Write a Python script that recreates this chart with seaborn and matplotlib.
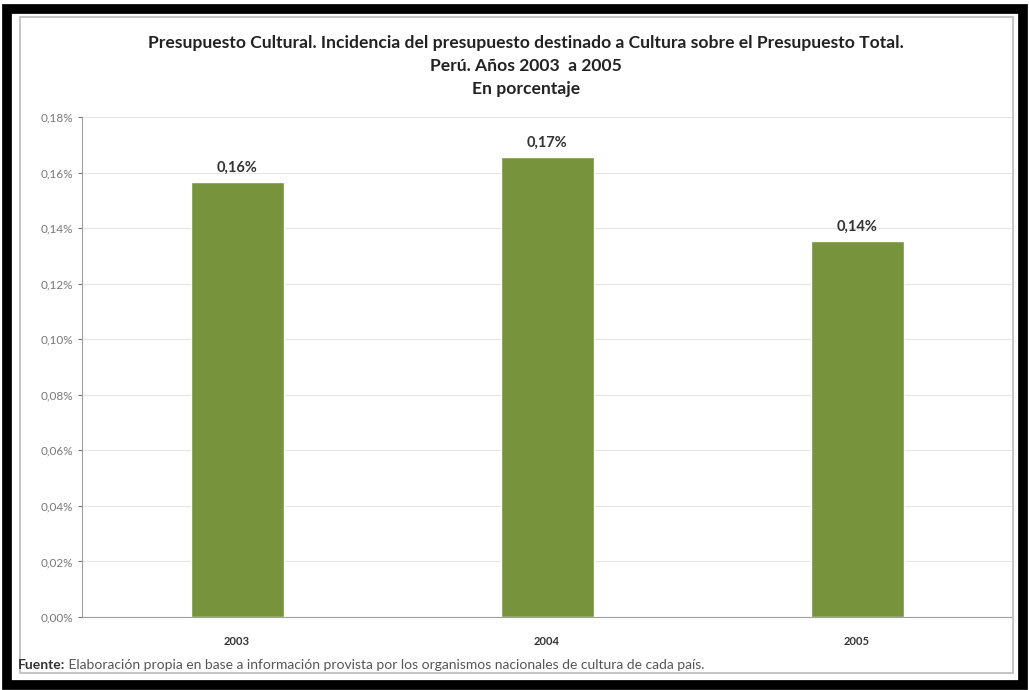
import matplotlib
matplotlib.use("Agg")
import matplotlib.pyplot as plt
import matplotlib.patches as mpatches
import seaborn as sns
import pandas as pd
from matplotlib.ticker import FuncFormatter

years = ["2003", "2004", "2005"]
values = [0.1566, 0.1656, 0.1354]
labels = ["0,16%", "0,17%", "0,14%"]

sns.set_style("white")
plt.rcParams['font.family'] = ['Lato', 'DejaVu Sans']

fig = plt.figure(figsize=(10.29, 6.90), dpi=100)
# black frame + inner gray border
fig.patches.append(mpatches.Rectangle((7/1029, 5/690), 1016/1029, 676/690, transform=fig.transFigure,
                                      facecolor='none', edgecolor='black', linewidth=7, zorder=0))
fig.patches.append(mpatches.Rectangle((20/1029, 17/690), 993/1029, 656/690, transform=fig.transFigure,
                                      facecolor='none', edgecolor='#bbbbbb', linewidth=1.2, zorder=0))

ax = fig.add_axes([82/1029, 1 - 617/690, 930/1029, 500/690])
df = pd.DataFrame({"year": years, "value": values})
sns.barplot(data=df, x="year", y="value", color="#77933C", width=0.3, ax=ax, saturation=1)

ax.set_ylim(0, 0.18)
ax.set_yticks([i * 0.02 for i in range(10)])
ax.yaxis.set_major_formatter(FuncFormatter(lambda v, p: f"{v:.2f}%".replace('.', ',')))
ax.grid(axis='y', color='#e6e6e6', linewidth=0.8)
ax.set_axisbelow(True)
for s in ['top', 'right']:
    ax.spines[s].set_visible(False)
ax.spines['left'].set_color('#a0a0a0')
ax.spines['bottom'].set_color('#a0a0a0')
ax.tick_params(axis='y', labelsize=8.5, colors='#777777', length=3, left=True)
ax.tick_params(axis='x', labelsize=8, length=0, pad=14)
for t in ax.get_xticklabels():
    t.set_fontweight('bold')
    t.set_color('#333333')
ax.set_xlabel("")
ax.set_ylabel("")

for i, (v, lab) in enumerate(zip(values, labels)):
    ax.annotate(lab, (i, v), xytext=(0, 5), textcoords='offset points', ha='center', va='bottom',
                fontsize=10.5, fontweight='bold', color='#333333')

fig.text(0.511, 1 - 43/690, "Presupuesto Cultural. Incidencia del presupuesto destinado a Cultura sobre el Presupuesto Total.",
         ha='center', va='center', fontsize=12.6, fontweight='bold', color='#222222')
fig.text(0.511, 1 - 66/690, "Perú. Años 2003  a 2005", ha='center', va='center', fontsize=12.6,
         fontweight='bold', color='#222222')
fig.text(0.511, 1 - 89/690, "En porcentaje", ha='center', va='center', fontsize=12.6,
         fontweight='bold', color='#222222')

t1 = fig.text(18/1029, 1 - 665/690, "Fuente:", ha='left', va='center', fontsize=10, fontweight='bold', color='#333333')
ax.annotate(" Elaboración propia en base a información provista por los organismos nacionales de cultura de cada país.",
            xy=(1, 0.5), xycoords=t1, ha='left', va='center', fontsize=10, color='#555555', annotation_clip=False)

fig.savefig("out.png", dpi=100, facecolor='white')
